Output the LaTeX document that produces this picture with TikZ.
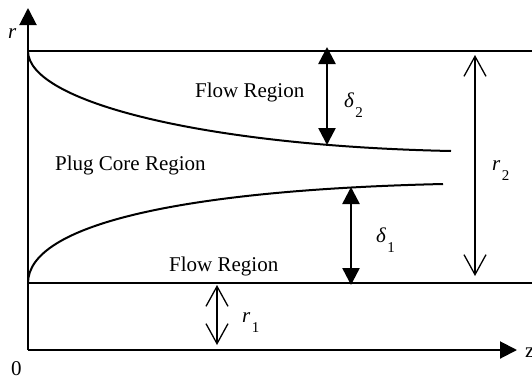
\documentclass[tikz,border=0pt]{standalone}
\usepackage{fontspec}
\setmainfont{Liberation Serif}
\usetikzlibrary{arrows.meta}
\newcommand\sublbl[2]{{\itshape #1}\hspace{1.5pt}\raisebox{-10pt}{\fontsize{15}{15}\selectfont #2}}
\tikzset{
  axis/.style={line width=2pt,-{Triangle[length=17pt,width=17pt]}},
  wall/.style={line width=1.8pt},
  profile/.style={line width=2pt},
  bigdim/.style={line width=2.5pt,{Triangle[length=17pt,width=17pt]}-{Triangle[length=17pt,width=17pt]}},
  thindim/.style={line width=1.3pt,{Straight Barb[length=20pt,width=22pt]}-{Straight Barb[length=20pt,width=22pt]}},
  txt/.style={inner sep=0pt,anchor=base west,font=\fontsize{21}{21}\selectfont},
}
\begin{document}
\begin{tikzpicture}[x=1pt,y=-1pt]
\useasboundingbox (0,0) rectangle (532,380);
% coordinates
\coordinate (O) at (28,350);
\coordinate (rtop) at (28,8);
\coordinate (zend) at (517,350);
\coordinate (TL) at (28,51);
\coordinate (TR) at (532,51);
\coordinate (BL) at (28,283);
\coordinate (BR) at (532,283);
\coordinate (U2) at (451,151);
\coordinate (L2) at (443,184);
\coordinate (d2a) at (327,47);
\coordinate (d2b) at (327,145);
\coordinate (d1a) at (351,187);
\coordinate (d1b) at (351,285);
\coordinate (r2a) at (475,55);
\coordinate (r2b) at (475,276);
\coordinate (r1a) at (217,285);
\coordinate (r1b) at (217,345);
% axes
\draw[axis] (O) -- (rtop);
\draw[axis] (O) -- (zend);
% walls
\draw[wall] (TL) -- (TR);
\draw[wall] (BL) -- (BR);
% profiles
\draw[profile] (TL) .. controls (28,102) and (205,146) .. (U2);
\draw[profile] (BL) .. controls (28,225) and (180,190) .. (L2);
% dimension arrows
\draw[bigdim] (d2a) -- (d2b);
\draw[bigdim] (d1a) -- (d1b);
\draw[thindim] (r2a) -- (r2b);
\draw[thindim] (r1a) -- (r1b);
% texts
\node[txt] (flow1) at (195,97) {Flow Region};
\node[txt] (plug) at (55,170) {Plug Core Region};
\node[txt] (flow2) at (169,271) {Flow Region};
\node[txt] (rlab) at (8,38) {\itshape r};
\node[txt] (zlab) at (525,357) {z};
\node[txt] (zero) at (11,375) {0};
\node[txt] (d2lab) at (344,107) {\sublbl{δ}{2}};
\node[txt] (d1lab) at (376,242) {\sublbl{δ}{1}};
\node[txt] (r2lab) at (492,170) {\sublbl{r}{2}};
\node[txt] (r1lab) at (242,322) {\sublbl{r}{1}};
\end{tikzpicture}
\end{document}
